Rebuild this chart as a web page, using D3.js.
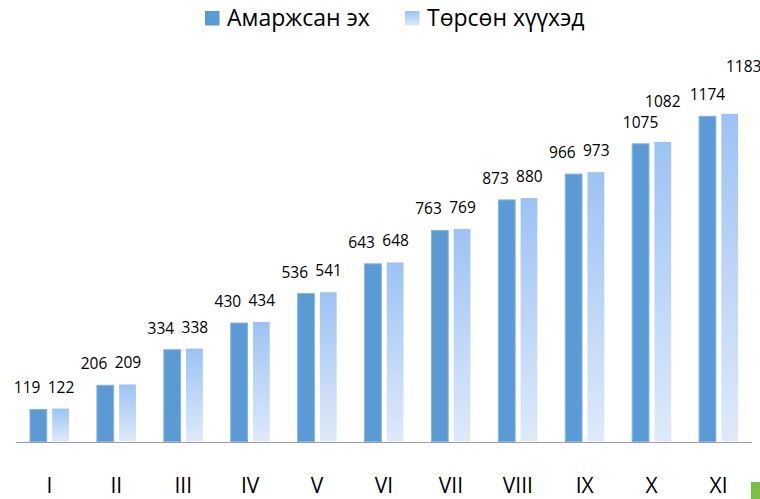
<!DOCTYPE html>
<html>
<head>
  <meta charset="utf-8">
  <style>
    body { margin: 0; background: #fff; }
    svg { display: block; font-family: "Open Sans", "Noto Sans", sans-serif; }
    .value { font-size: 15.5px; fill: #000; }
    .xlab { font-size: 21px; fill: #000; }
    .legend text { font-size: 23px; fill: #000; }
  </style>
</head>
<body>
<svg width="760" height="499"></svg>
<script src="https://cdnjs.cloudflare.com/ajax/libs/d3/7.8.5/d3.min.js"></script>
<script>

  // data
  var months = ["I", "II", "III", "IV", "V", "VI", "VII", "VIII", "IX", "X", "XI"];
  var mothers = [119, 206, 334, 430, 536, 643, 763, 873, 966, 1075, 1174];
  var children = [122, 209, 338, 434, 541, 648, 769, 880, 973, 1082, 1183];
  var seriesNames = ["Амаржсан эх", "Төрсөн хүүхэд"];

  var svg = d3.select("svg");

  // scales
  var x0 = d3.scaleBand()
    .domain(months)
    .range([16, 752])
    .paddingInner(0);

  var x1 = d3.scaleBand()
    .domain([0, 1])
    .range([13.5, 53.5])
    .paddingInner(0.2);

  var y = d3.scaleLinear()
    .domain([0, 1400])
    .range([442, 53]);

  // gradient for the second series
  var defs = svg.append("defs");
  var grad = defs.append("linearGradient")
    .attr("id", "lightGrad")
    .attr("x1", 0).attr("y1", 0)
    .attr("x2", 0).attr("y2", 1);
  grad.append("stop").attr("offset", "0%").attr("stop-color", "#9cc3f5");
  grad.append("stop").attr("offset", "100%").attr("stop-color", "#deeaf9");

  var legGrad = defs.append("linearGradient")
    .attr("id", "legGrad")
    .attr("x1", 0).attr("y1", 0)
    .attr("x2", 0).attr("y2", 1);
  legGrad.append("stop").attr("offset", "0%").attr("stop-color", "#9cc3f5");
  legGrad.append("stop").attr("offset", "100%").attr("stop-color", "#deeaf9");

  var fills = ["#5b9bd5", "url(#lightGrad)"];
  var strokes = ["#86b4e2", "none"];

  var rows = months.map(function(m, i) {
    return { month: m, values: [mothers[i], children[i]] };
  });

  // bars
  var group = svg.append("g")
    .selectAll("g")
    .data(rows)
    .enter().append("g")
    .attr("transform", function(d) { return "translate(" + x0(d.month) + ",0)"; });

  group.selectAll("rect")
    .data(function(d) { return d.values.map(function(v, k) { return { k: k, v: v, month: d.month }; }); })
    .enter().append("rect")
    .attr("x", function(d) { return x1(d.k) + 0.5; })
    .attr("y", function(d) { return y(d.v) + 0.5; })
    .attr("width", x1.bandwidth() - 1)
    .attr("height", function(d) { return y(0) - y(d.v) - 1; })
    .attr("fill", function(d) { return fills[d.k]; })
    .attr("stroke", function(d) { return strokes[d.k]; })
    .attr("stroke-width", 1);

  // value labels (pairs pushed apart, 4-digit ones centred, a few moved up)
  var lift = { "X": [0, -19], "XI": [14, -26] };

  group.selectAll("text")
    .data(function(d) { return d.values.map(function(v, k) { return { k: k, v: v, month: d.month }; }); })
    .enter().append("text")
    .attr("class", "value")
    .attr("text-anchor", function(d) {
      if (d.v >= 1000) return "middle";
      return d.k === 0 ? "end" : "start";
    })
    .attr("x", function(d) {
      var bx = x1(d.k);
      var bw = x1.bandwidth();
      var px;
      if (d.v >= 1000) px = bx + bw / 2;
      else px = d.k === 0 ? bx + bw / 2 + 2 : bx - 4;
      if (d.k === 1 && lift[d.month]) px += lift[d.month][0];
      return px;
    })
    .attr("y", function(d) {
      var py = y(d.v) - 15.5;
      if (d.k === 1 && lift[d.month]) py += lift[d.month][1];
      return py;
    })
    .text(function(d) { return d.v; });

  // axis line
  svg.append("line")
    .attr("x1", x0.range()[0])
    .attr("x2", x0.range()[1])
    .attr("y1", y(0) + 0.5)
    .attr("y2", y(0) + 0.5)
    .attr("stroke", "#a0a0a0")
    .attr("stroke-width", 1.2);

  // category labels
  svg.append("g")
    .selectAll("text")
    .data(months)
    .enter().append("text")
    .attr("class", "xlab")
    .attr("text-anchor", "middle")
    .attr("x", function(d) { return x0(d) + x0.bandwidth() / 2; })
    .attr("y", 493)
    .text(function(d) { return d; });

  // legend
  var legend = svg.append("g").attr("class", "legend");
  var legX = [205, 405];
  seriesNames.forEach(function(name, k) {
    legend.append("rect")
      .attr("x", legX[k])
      .attr("y", 11)
      .attr("width", 14.5)
      .attr("height", 14.5)
      .attr("fill", k === 0 ? "#5b9bd5" : "url(#legGrad)");
    legend.append("text")
      .attr("x", legX[k] + 22)
      .attr("y", 26)
      .text(name);
  });

  // small green mark at the bottom right
  svg.append("rect")
    .attr("x", 751)
    .attr("y", 482)
    .attr("width", 9)
    .attr("height", 17)
    .attr("fill", "#7ac143");

</script>
</body>
</html>
